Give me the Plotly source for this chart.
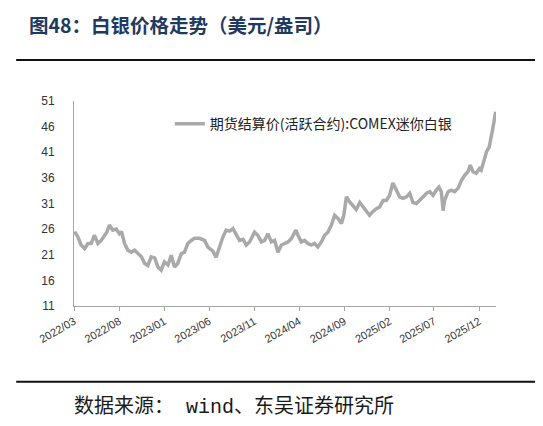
import plotly.graph_objects as go

dates = [
    "2022-03-03", "2022-03-14", "2022-03-25", "2022-04-06", "2022-04-17", "2022-04-28",
    "2022-05-09", "2022-05-21", "2022-06-01", "2022-06-12", "2022-06-20", "2022-06-29",
    "2022-07-10", "2022-07-22", "2022-08-02", "2022-08-09", "2022-08-19", "2022-08-30",
    "2022-09-11", "2022-09-22", "2022-10-03", "2022-10-15", "2022-10-26", "2022-11-06",
    "2022-11-17", "2022-11-29", "2022-12-10", "2022-12-21", "2023-01-01", "2023-01-13",
    "2023-01-24", "2023-02-04", "2023-02-15", "2023-02-27", "2023-03-10", "2023-03-21",
    "2023-04-02", "2023-04-13", "2023-04-30", "2023-05-17", "2023-05-28", "2023-06-06",
    "2023-06-14", "2023-06-25", "2023-07-07", "2023-07-18", "2023-07-29", "2023-08-10",
    "2023-08-21", "2023-09-01", "2023-09-12", "2023-09-24", "2023-10-05", "2023-10-16",
    "2023-11-02", "2023-11-13", "2023-11-25", "2023-12-06", "2023-12-17", "2023-12-29",
    "2024-01-09", "2024-01-20", "2024-02-01", "2024-02-12", "2024-02-23", "2024-03-05",
    "2024-03-21", "2024-03-28", "2024-04-08", "2024-04-19", "2024-05-01", "2024-05-12",
    "2024-05-23", "2024-06-03", "2024-06-15", "2024-06-26", "2024-07-07", "2024-07-19",
    "2024-07-30", "2024-08-10", "2024-08-22", "2024-08-30", "2024-09-08", "2024-09-19",
    "2024-09-30", "2024-10-11", "2024-10-23", "2024-11-03", "2024-11-14", "2024-11-25",
    "2024-12-06", "2024-12-18", "2024-12-29", "2025-01-10", "2025-01-21", "2025-02-01",
    "2025-02-12", "2025-02-24", "2025-03-07", "2025-03-18", "2025-03-30", "2025-04-10",
    "2025-04-21", "2025-05-03", "2025-05-14", "2025-05-25", "2025-06-06", "2025-06-17",
    "2025-06-28", "2025-07-09", "2025-07-18", "2025-07-26", "2025-08-01", "2025-08-06",
    "2025-08-18", "2025-08-29", "2025-09-09", "2025-09-21", "2025-10-02", "2025-10-13",
    "2025-10-24", "2025-11-01", "2025-11-10", "2025-11-21", "2025-12-02", "2025-12-08",
    "2025-12-14", "2025-12-20", "2025-12-26", "2026-01-04", "2026-01-09", "2026-01-15",
    "2026-01-20", "2026-01-26",
]

silver = [
    25.5, 24.5, 22.9, 22.2, 23.2, 23.2,
    24.8, 23.2, 23.8, 24.8, 25.4, 26.8,
    25.8, 26.0, 25.1, 25.5, 23.2, 21.9,
    21.5, 21.9, 21.2, 20.6, 19.3, 18.9,
    20.6, 20.4, 18.6, 18.0, 19.6, 19.0,
    20.9, 18.6, 19.3, 21.2, 21.5, 23.2,
    23.8, 24.2, 24.2, 23.8, 22.5, 22.0,
    21.7, 20.5, 22.5, 24.5, 25.8, 25.6,
    26.1, 24.8, 23.8, 24.0, 22.9, 23.5,
    25.4, 24.8, 23.5, 23.8, 25.1, 23.5,
    23.8, 21.5, 22.9, 23.2, 23.5, 24.1,
    25.8, 24.8, 23.5, 23.8, 23.2, 22.9,
    23.2, 22.5, 23.5, 24.8, 25.4, 26.8,
    28.7, 28.1, 27.1, 28.7, 32.3, 31.3,
    30.5, 29.8, 31.2, 30.3, 29.4, 28.7,
    29.4, 30.0, 30.3, 31.6, 31.6, 32.6,
    35.0, 33.6, 32.3, 32.0, 32.3, 33.0,
    31.2, 31.0, 31.6, 32.3, 33.0, 33.3,
    32.6, 33.6, 34.2, 33.3, 29.6, 31.6,
    33.3, 33.6, 33.3, 34.0, 35.5, 36.5,
    37.2, 38.5, 37.2, 36.9, 37.8, 37.5,
    38.8, 40.4, 41.1, 42.0, 44.0, 45.3,
    46.9, 48.9,
]

tick_dates = ["2022-03-01", "2022-08-01", "2023-01-01", "2023-06-01", "2023-11-01",
              "2024-04-01", "2024-09-01", "2025-02-01", "2025-07-01", "2025-12-01"]
tick_labels = ["2022/03", "2022/08", "2023/01", "2023/06", "2023/11",
               "2024/04", "2024/09", "2025/02", "2025/07", "2025/12"]
y_ticks = [11, 16, 21, 26, 31, 36, 41, 46, 51]

series_name = "期货结算价(活跃合约):COMEX迷你白银"
title_text = "图48：白银价格走势（美元/盎司）"
source_text = "数据来源： wind、东吴证券研究所"

fig = go.Figure()
fig.add_trace(go.Scatter(
    x=dates, y=silver, mode="lines", name=series_name,
    line=dict(color="#A9A9A9", width=3.5),
))

# page body has an 8px margin, so the figure is drawn 8px smaller
fig.update_layout(
    width=535, height=418,
    margin=dict(l=66, r=47, t=93, b=120),
    paper_bgcolor="white", plot_bgcolor="white",
    showlegend=True,
    legend=dict(x=0.227, y=0.965, xanchor="left", yanchor="top",
                bgcolor="rgba(0,0,0,0)",
                font=dict(family="Noto Sans CJK SC", size=14, color="#222222")),
    font=dict(family="Liberation Sans, Arial", color="#333333"),
)

fig.update_xaxes(
    type="date", range=["2022-03-01", "2026-01-27"],
    tickmode="array", tickvals=tick_dates, ticktext=tick_labels,
    tickangle=-30, tickfont=dict(family="Liberation Sans, Arial", size=11, color="#333333"),
    showgrid=False, showline=True, linecolor="#A6A6A6", linewidth=1,
    ticks="outside", ticklen=4, tickcolor="#A6A6A6",
    zeroline=False,
)
fig.update_yaxes(
    range=[11, 51], tickmode="array", tickvals=y_ticks,
    tickfont=dict(family="Liberation Sans, Arial", size=12, color="#333333"),
    showgrid=False, showline=True, linecolor="#A6A6A6", linewidth=1,
    ticks="", ticklabelstandoff=16, zeroline=False,
)

fig.add_annotation(text="<b>" + title_text + "</b>", xref="paper", yref="paper",
                   x=-0.111, y=1.371, xanchor="left", yanchor="middle",
                   showarrow=False,
                   font=dict(family="Noto Sans CJK SC", size=19.5, color="#1F3A5F"))
fig.add_annotation(text=source_text, xref="paper", yref="paper",
                   x=-0.005, y=-0.493, xanchor="left", yanchor="middle",
                   showarrow=False,
                   font=dict(family="Liberation Mono, Noto Sans CJK SC", size=20, color="#1A1A1A"))

fig.add_shape(type="line", xref="paper", yref="paper",
              x0=-0.137, x1=1.12, y0=1.2, y1=1.2,
              line=dict(color="#111111", width=2))
fig.add_shape(type="line", xref="paper", yref="paper",
              x0=-0.137, x1=1.12, y0=-0.369, y1=-0.369,
              line=dict(color="#111111", width=2))

fig.write_html("out.html")
